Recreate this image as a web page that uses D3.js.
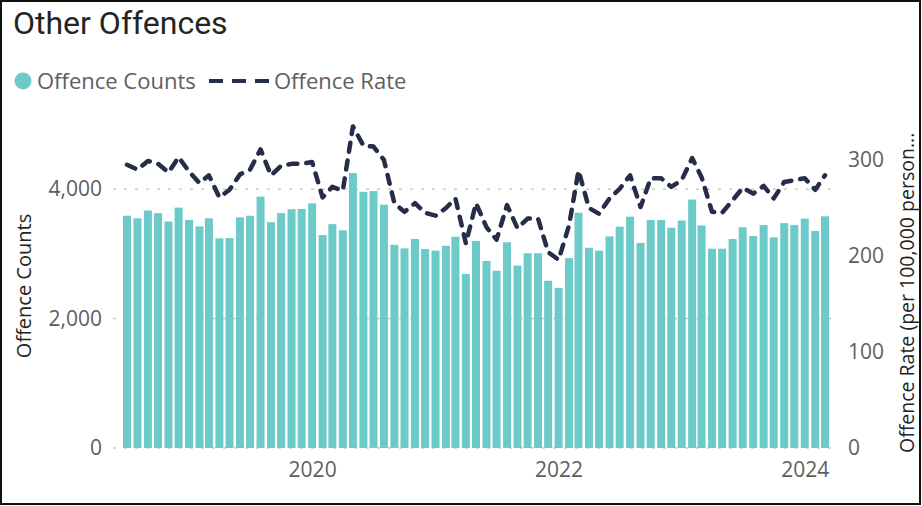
<!DOCTYPE html>
<html>
<head>
<meta charset="utf-8">
<script src="https://cdn.jsdelivr.net/npm/d3@7"></script>
<style>
	body { margin: 0; background: #fff; }
	svg { display: block; }
</style>
</head>
<body>
<svg id="chart"></svg>
<script>
// monthly values, Jul 2018 - Mar 2024
const startMonth = new Date(2018, 6, 1);
const offenceCounts = [
	3590, 3550, 3670, 3630, 3500, 3715, 3525, 3425, 3550, 3240, 3245, 3565,
	3590, 3885, 3490, 3630, 3690, 3695, 3780, 3290, 3460, 3365, 4250, 3960,
	3970, 3760, 3140, 3085, 3230, 3075, 3050, 3125, 3265, 2690, 3200, 2890,
	2740, 3180, 2820, 3010, 3010, 2585, 2475, 2935, 3635, 3095, 3050, 3270,
	3420, 3575, 3170, 3525, 3525, 3405, 3515, 3840, 3440, 3080, 3080, 3230,
	3410, 3275, 3445, 3255, 3475, 3445, 3545, 3355, 3580
];
const offenceRates = [
	295, 290, 299, 296, 287, 303, 288, 276, 284, 261, 269, 285,
	290, 311, 284, 294, 296, 296, 298, 261, 272, 268, 335, 315,
	314, 300, 255, 246, 255, 245, 242, 250, 260, 213, 255, 230,
	217, 253, 229, 239, 239, 204, 196, 232, 289, 250, 244, 260,
	270, 284, 251, 281, 281, 272, 279, 302, 282, 246, 245, 258,
	271, 265, 273, 260, 277, 279, 281, 269, 284
];
const countTicks = [0, 2000, 4000];
const rateTicks = [0, 100, 200, 300];

const months = offenceCounts.map((d, i) => d3.timeMonth.offset(startMonth, i));
const data = months.map((m, i) => ({month: m, count: offenceCounts[i], rate: offenceRates[i]}));

const width = 922, height = 506;
const svg = d3.select("#chart")
		.attr("width", width)
		.attr("height", height);

const plotTop = 118, plotBottom = 448;
const x = d3.scaleTime()
		.domain([months[0], months[months.length - 1]])
		.range([127, 825]);
const yCount = d3.scaleLinear().domain([0, 5100]).range([plotBottom, plotTop]);
const yRate = d3.scaleLinear().domain([0, 343.75]).range([plotBottom, plotTop]);
const barWidth = 8;

const labelFont = "'Open Sans', 'Noto Sans', sans-serif";
const labelColor = "#605E5C";

// frame
svg.append("rect")
	.attr("x", 1).attr("y", 1)
	.attr("width", width - 3).attr("height", height - 3)
	.style("fill", "none")
	.style("stroke", "#111")
	.style("stroke-width", 2);

// title
svg.append("text")
	.attr("x", 13).attr("y", 34)
	.text("Other Offences")
	.style("font-family", "Roboto, sans-serif")
	.style("font-size", "32px")
	.style("fill", "#252423");

// legend
const legend = svg.append("g").attr("transform", "translate(0,81)");
legend.append("circle")
	.attr("cx", 23).attr("cy", 0).attr("r", 8.5)
	.style("fill", "#6CCBC9");
legend.append("text")
	.attr("x", 37).attr("y", 8)
	.text("Offence Counts")
	.style("font-family", labelFont)
	.style("font-size", "22px")
	.style("fill", labelColor);
legend.append("line")
	.attr("x1", 209).attr("x2", 271)
	.style("stroke", "#252D48")
	.style("stroke-width", 4)
	.style("stroke-dasharray", "14,9");
legend.append("text")
	.attr("x", 274).attr("y", 8)
	.text("Offence Rate")
	.style("font-family", labelFont)
	.style("font-size", "22px")
	.style("fill", labelColor);

// gridlines
svg.append("g")
	.selectAll("line")
	.data(countTicks)
	.join("line")
	.attr("x1", 113).attr("x2", 832)
	.attr("y1", d => yCount(d)).attr("y2", d => yCount(d))
	.style("stroke", "#C8C8C8")
	.style("stroke-width", 1.5)
	.style("stroke-dasharray", "3,8");

// bars
svg.append("g")
	.selectAll("rect")
	.data(data)
	.join("rect")
	.attr("x", d => x(d.month) - barWidth / 2)
	.attr("y", d => yCount(d.count))
	.attr("width", barWidth)
	.attr("height", d => plotBottom - yCount(d.count))
	.style("fill", "#6CCBC9");

// rate line
const line = d3.line()
		.x(d => x(d.month))
		.y(d => yRate(d.rate));
svg.append("path")
	.datum(data)
	.attr("d", line)
	.style("fill", "none")
	.style("stroke", "#252D48")
	.style("stroke-width", 4.5)
	.style("stroke-linecap", "round")
	.style("stroke-linejoin", "round")
	.style("stroke-dasharray", "9,9");

// axes
const styleAxis = g => {
	g.select(".domain").remove();
	g.selectAll(".tick line").remove();
	g.selectAll(".tick text")
		.style("font-family", labelFont)
		.style("font-size", "21px")
		.style("fill", labelColor);
};

svg.append("g")
	.attr("transform", "translate(0," + (plotBottom + 5) + ")")
	.call(d3.axisBottom(x).ticks(d3.timeYear.every(2)).tickFormat(d3.timeFormat("%Y")).tickSizeOuter(0))
	.call(styleAxis);

svg.append("g")
	.attr("transform", "translate(111,0)")
	.call(d3.axisLeft(yCount).tickValues(countTicks).tickFormat(d3.format(",")))
	.call(styleAxis);

svg.append("g")
	.attr("transform", "translate(839,0)")
	.call(d3.axisRight(yRate).tickValues(rateTicks))
	.call(styleAxis);

// axis titles
svg.append("text")
	.attr("transform", "translate(31,286) rotate(-90)")
	.attr("text-anchor", "middle")
	.text("Offence Counts")
	.style("font-family", labelFont)
	.style("font-size", "20px")
	.style("fill", "#252423");

svg.append("text")
	.attr("transform", "translate(914,453) rotate(-90)")
	.text("Offence Rate (per 100,000 person...")
	.style("font-family", labelFont)
	.style("font-size", "19.5px")
	.style("fill", "#252423");
</script>
</body>
</html>
